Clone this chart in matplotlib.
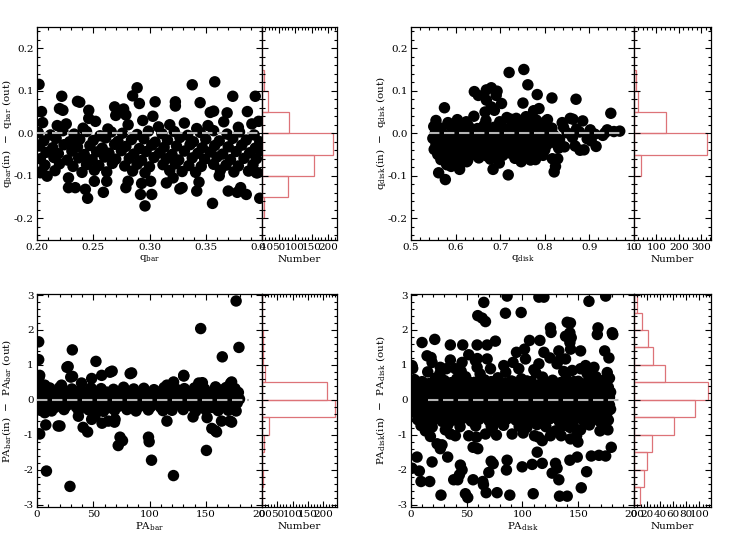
import matplotlib
matplotlib.use("Agg")
import matplotlib.pyplot as plt
from matplotlib.ticker import MultipleLocator, AutoMinorLocator, FormatStrFormatter, NullFormatter

plt.rcParams['font.family'] = ['DejaVu Serif']
plt.rcParams['mathtext.fontset'] = 'dejavuserif'
plt.rcParams['mathtext.default'] = 'regular'
plt.rcParams['axes.unicode_minus'] = False

# ---------------- data ----------------
# Panel A: q_bar vs q_bar(in)-q_bar(out)
qbar_outliers = [
    (0.2018, 0.115), (0.204, 0.051), (0.222, 0.087), (0.236, 0.075), (0.238, 0.073),
    (0.246, 0.054), (0.246, 0.035), (0.220, 0.058), (0.223, 0.054), (0.269, 0.062),
    (0.270, 0.042), (0.277, 0.057), (0.279, 0.043), (0.285, 0.088), (0.289, 0.107),
    (0.291, 0.070), (0.305, 0.074), (0.303, 0.040), (0.323, 0.074), (0.323, 0.064),
    (0.338, 0.114), (0.358, 0.121), (0.345, 0.072), (0.354, 0.049), (0.357, 0.052),
    (0.369, 0.048), (0.374, 0.087), (0.394, 0.087), (0.387, 0.051),
    (0.203, -0.093), (0.209, -0.101), (0.234, -0.128), (0.228, -0.105), (0.228, -0.128),
    (0.245, -0.153), (0.243, -0.132), (0.251, -0.113), (0.259, -0.139), (0.262, -0.113),
    (0.279, -0.128), (0.281, -0.113), (0.292, -0.144), (0.293, -0.118), (0.296, -0.171),
    (0.302, -0.144), (0.301, -0.113), (0.315, -0.117), (0.321, -0.105), (0.327, -0.131),
    (0.329, -0.128), (0.342, -0.136), (0.344, -0.115), (0.356, -0.165), (0.362, -0.100),
    (0.370, -0.136), (0.378, -0.139), (0.386, -0.144), (0.381, -0.128), (0.398, -0.153),
    (0.395, -0.093),
]
qbar_band_x = [
    0.205, 0.218, 0.226, 0.241, 0.252, 0.263, 0.281, 0.294, 0.308, 0.318, 0.331, 0.342, 0.352, 0.366, 0.379, 0.391, 0.397,
    0.201, 0.212, 0.223, 0.233, 0.244, 0.256, 0.266, 0.276, 0.289, 0.299, 0.311, 0.322, 0.334, 0.345, 0.357, 0.369, 0.380, 0.393,
    0.206, 0.217, 0.229, 0.238, 0.250, 0.261, 0.272, 0.284, 0.295, 0.305, 0.316, 0.327, 0.339, 0.350, 0.362, 0.374, 0.386, 0.398,
    0.202, 0.214, 0.224, 0.236, 0.247, 0.258, 0.269, 0.279, 0.291, 0.302, 0.313, 0.324, 0.336, 0.347, 0.358, 0.370, 0.382, 0.394,
    0.208, 0.219, 0.231, 0.242, 0.253, 0.264, 0.275, 0.286, 0.297, 0.309, 0.320, 0.331, 0.343, 0.354, 0.365, 0.377, 0.389, 0.399,
    0.203, 0.215, 0.227, 0.237, 0.249, 0.260, 0.270, 0.282, 0.293, 0.304, 0.315, 0.326, 0.338, 0.349, 0.360, 0.372, 0.384, 0.395,
    0.207, 0.220, 0.232, 0.244, 0.255, 0.267, 0.278, 0.289, 0.300, 0.312, 0.323, 0.335, 0.346, 0.357, 0.368, 0.379, 0.392,
    0.204, 0.216, 0.240, 0.251, 0.262, 0.285, 0.296, 0.318, 0.329, 0.341, 0.363, 0.375, 0.388, 0.396,
]
qbar_band_dy = [
    0.025, 0.018, 0.022, 0.012, 0.028, 0.010, 0.020, 0.030, 0.015, 0.020, 0.024, 0.011, 0.018, 0.027, 0.014, 0.022, 0.028,
    0.002, -0.004, 0.006, -0.002, 0.004, -0.006, 0.003, 0.000, -0.003, 0.005, -0.001, 0.004, -0.005, 0.002, 0.006, -0.002, 0.003, -0.004,
    -0.018, -0.012, -0.020, -0.014, -0.017, -0.011, -0.019, -0.015, -0.013, -0.021, -0.016, -0.010, -0.020, -0.014, -0.018, -0.012, -0.016, -0.020,
    -0.030, -0.034, -0.027, -0.032, -0.029, -0.035, -0.026, -0.031, -0.036, -0.028, -0.033, -0.030, -0.027, -0.034, -0.029, -0.032, -0.028, -0.035,
    -0.045, -0.048, -0.042, -0.050, -0.044, -0.047, -0.041, -0.049, -0.043, -0.046, -0.050, -0.042, -0.047, -0.044, -0.049, -0.043, -0.046, -0.041,
    -0.060, -0.057, -0.063, -0.058, -0.062, -0.056, -0.061, -0.059, -0.064, -0.057, -0.060, -0.063, -0.058, -0.061, -0.056, -0.062, -0.059, -0.060,
    -0.075, -0.072, -0.078, -0.074, -0.076, -0.071, -0.077, -0.073, -0.079, -0.074, -0.072, -0.076, -0.078, -0.073, -0.075, -0.077, -0.074,
    -0.090, -0.088, -0.092, -0.087, -0.091, -0.089, -0.093, -0.088, -0.090, -0.092, -0.087, -0.091, -0.089, -0.093,
]
qbar_hist_lo = [-0.20, -0.15, -0.10, -0.05, 0.00, 0.05, 0.10]
qbar_hist_n = [5, 79, 158, 216, 83, 18, 5]

# Panel B: q_disk
qdisk_outliers = [
    (0.720, 0.143), (0.753, 0.150), (0.762, 0.114), (0.642, 0.098), (0.651, 0.089),
    (0.669, 0.102), (0.680, 0.107), (0.693, 0.099), (0.691, 0.089), (0.669, 0.078),
    (0.680, 0.062), (0.687, 0.054), (0.703, 0.070), (0.751, 0.071), (0.783, 0.091),
    (0.787, 0.058), (0.775, 0.053), (0.816, 0.083), (0.870, 0.080), (0.948, 0.047),
    (0.575, 0.060), (0.857, 0.035), (0.863, 0.033), (0.885, 0.029), (0.666, 0.050),
    (0.715, 0.037), (0.736, 0.035), (0.758, 0.039), (0.773, 0.033), (0.806, 0.032),
    (0.839, 0.025),
    (0.577, -0.109), (0.562, -0.093), (0.580, -0.074), (0.590, -0.078), (0.610, -0.074),
    (0.609, -0.085), (0.625, -0.067), (0.684, -0.085), (0.718, -0.098), (0.698, -0.070),
    (0.698, -0.056), (0.747, -0.067), (0.779, -0.062), (0.817, -0.060), (0.824, -0.078),
    (0.821, -0.091), (0.829, -0.060), (0.831, -0.035), (0.844, -0.032), (0.879, -0.040),
    (0.888, -0.039), (0.915, -0.031), (0.904, -0.018), (0.930, -0.005), (0.955, 0.004),
    (0.968, 0.005), (0.940, 0.008),
]
qdisk_band_x = [
    0.556, 0.583, 0.604, 0.624, 0.641, 0.668, 0.699, 0.724, 0.752, 0.781, 0.802,
    0.551, 0.568, 0.589, 0.608, 0.629, 0.649, 0.664, 0.686, 0.704, 0.721, 0.741, 0.759, 0.776, 0.794, 0.816, 0.842, 0.871, 0.902,
    0.555, 0.574, 0.594, 0.614, 0.632, 0.648, 0.662, 0.678, 0.695, 0.712, 0.730, 0.748, 0.765, 0.782, 0.800, 0.820, 0.850, 0.878, 0.912, 0.935,
    0.549, 0.566, 0.585, 0.602, 0.620, 0.637, 0.655, 0.672, 0.690, 0.708, 0.725, 0.742, 0.758, 0.775, 0.792, 0.810, 0.833, 0.862, 0.895,
    0.556, 0.573, 0.592, 0.610, 0.628, 0.645, 0.663, 0.680, 0.698, 0.716, 0.733, 0.750, 0.768, 0.786, 0.805, 0.826, 0.868,
    0.552, 0.571, 0.590, 0.606, 0.625, 0.642, 0.660, 0.676, 0.694, 0.712, 0.729, 0.746, 0.764, 0.780, 0.800,
    0.560, 0.580, 0.600, 0.618, 0.636, 0.653, 0.671, 0.689, 0.706, 0.723, 0.741, 0.759, 0.777, 0.796,
    0.567, 0.598, 0.627, 0.652, 0.678, 0.733, 0.768,
]
qdisk_band_dy = [
    0.030, 0.025, 0.032, 0.027, 0.040, 0.030, 0.027, 0.033, 0.026, 0.031, 0.028,
    0.016, 0.012, 0.018, 0.013, 0.017, 0.011, 0.019, 0.014, 0.016, 0.012, 0.018, 0.015, 0.013, 0.017, 0.012, 0.014, 0.010, 0.008,
    0.002, -0.003, 0.004, -0.001, 0.003, -0.004, 0.001, 0.005, -0.002, 0.003, -0.003, 0.002, 0.004, -0.001, 0.002, -0.004, 0.001, 0.003, -0.002, 0.001,
    -0.012, -0.015, -0.010, -0.013, -0.016, -0.011, -0.014, -0.009, -0.015, -0.012, -0.010, -0.016, -0.013, -0.011, -0.014, -0.012, -0.015, -0.010, -0.013,
    -0.025, -0.028, -0.022, -0.026, -0.024, -0.029, -0.023, -0.027, -0.025, -0.022, -0.028, -0.024, -0.026, -0.023, -0.027, -0.025, -0.030,
    -0.038, -0.040, -0.036, -0.041, -0.037, -0.039, -0.035, -0.042, -0.038, -0.036, -0.040, -0.037, -0.041, -0.036, -0.039,
    -0.050, -0.053, -0.048, -0.055, -0.051, -0.049, -0.054, -0.050, -0.052, -0.047, -0.053, -0.050, -0.048, -0.052,
    -0.062, -0.060, -0.064, -0.058, -0.061, -0.059, -0.063,
]
qdisk_hist_lo = [-0.10, -0.05, 0.00, 0.05, 0.10]
qdisk_hist_n = [30, 326, 144, 20, 8]

# Panel C: PA_bar
pabar_outliers = [
    (1.5, 1.66), (1.5, 1.15), (1.8, 0.64), (2.4, -0.98), (8.4, -2.04), (7.8, -0.72),
    (29.3, -2.48), (31.4, 1.43), (26.6, 0.93), (30.0, 0.65), (20.4, -0.75), (41.0, -0.79),
    (36.8, -0.47), (52.4, 1.10), (66.8, 0.82), (84.1, 0.77), (72.2, -1.31), (76.0, -1.17),
    (68.9, -0.64), (99.1, -1.07), (99.7, -1.20), (101.8, -1.73), (121.3, -2.17), (130.5, 0.68),
    (145.5, 2.04), (150.6, -1.45), (155.4, -0.82), (159.6, -0.92), (164.7, 1.23), (177.0, 2.83),
    (179.5, 1.50), (173.0, 0.51), (164.0, -0.61), (173.0, -0.64), (163.0, 0.28), (147.0, 0.49),
    (57.8, -0.67), (18.8, -0.75), (27.7, 0.95), (31.6, 0.67), (57.5, 0.70), (64.9, 0.79),
    (82.8, 0.75), (130.4, 0.70), (158.7, 0.37), (172.0, 0.47), (143.8, 0.48), (115.5, 0.42),
    (39.6, 0.48), (48.6, 0.61), (6.9, 0.42), (2.4, 0.70), (11.3, 0.34), (21.8, 0.42),
    (121.4, 0.51), (6.9, -0.37), (48.6, -0.56), (51.5, -0.47), (63.4, -0.61), (69.4, -0.56),
    (115.5, -0.61), (138.7, -0.49), (151.2, -0.51), (158.7, -0.89), (171.5, -0.61), (73.8, -1.07),
    (45.0, -0.92),
]
pabar_band_x = [
    2, 11, 20, 31, 39, 48, 57, 68, 77, 86, 95, 104, 113, 124, 131, 140, 149, 158, 168, 176,
    6, 15, 25, 34, 44, 53, 62, 72, 81, 90, 100, 109, 118, 127, 136, 145, 154, 163, 172, 179,
    1, 10, 19, 29, 38, 47, 56, 66, 75, 84, 94, 103, 112, 121, 131, 140, 149, 158, 167, 176,
    4, 14, 23, 33, 42, 51, 60, 70, 79, 89, 98, 107, 116, 126, 135, 144, 153, 162, 171, 180,
    2, 11, 21, 30, 40, 49, 58, 67, 77, 86, 96, 105, 114, 123, 133, 142, 151, 160, 169, 178,
    7, 16, 26, 35, 45, 54, 63, 73, 82, 91, 101, 110, 119, 129, 138, 147, 156, 165, 174,
    3, 13, 24, 37, 46, 59, 69, 80, 88, 99, 112, 120, 130, 141, 150, 161, 170, 177,
]
pabar_band_dy = [
    0.33, 0.30, 0.35, 0.31, 0.29, 0.34, 0.32, 0.30, 0.36, 0.31, 0.33, 0.29, 0.35, 0.30, 0.32, 0.34, 0.31, 0.29, 0.35, 0.32,
    0.21, 0.18, 0.22, 0.19, 0.20, 0.17, 0.22, 0.19, 0.21, 0.18, 0.20, 0.22, 0.17, 0.21, 0.19, 0.20, 0.18, 0.22, 0.19, 0.21,
    0.10, 0.08, 0.12, 0.09, 0.11, 0.07, 0.10, 0.12, 0.08, 0.11, 0.09, 0.10, 0.12, 0.08, 0.11, 0.09, 0.10, 0.07, 0.12, 0.09,
    0.00, -0.02, 0.02, -0.01, 0.01, -0.02, 0.02, 0.00, -0.01, 0.02, -0.02, 0.01, 0.00, -0.01, 0.02, -0.02, 0.01, 0.00, -0.01, 0.02,
    -0.10, -0.12, -0.08, -0.11, -0.09, -0.10, -0.12, -0.08, -0.11, -0.09, -0.10, -0.12, -0.08, -0.11, -0.09, -0.10, -0.12, -0.08, -0.11, -0.09,
    -0.20, -0.22, -0.18, -0.21, -0.19, -0.20, -0.23, -0.18, -0.21, -0.19, -0.20, -0.22, -0.18, -0.21, -0.19, -0.20, -0.22, -0.18, -0.21,
    -0.30, -0.32, -0.28, -0.31, -0.29, -0.33, -0.30, -0.28, -0.32, -0.29, -0.31, -0.30, -0.28, -0.33, -0.29, -0.31, -0.30, -0.32,
]
pabar_hist_lo = [-3.0, -2.5, -2.0, -1.5, -1.0, -0.5, 0.0, 0.5, 1.0, 1.5, 2.0, 2.5]
pabar_hist_n = [1, 2, 1, 5, 23, 238, 213, 9, 3, 2, 1, 1]

# Panel D: PA_disk
padisk_outliers = [
    (86.2, 2.97), (114.7, 2.94), (119.2, 2.94), (174.6, 2.97), (65.3, 2.79), (84.7, 2.48),
    (98.8, 2.50), (159.6, 2.82), (59.9, 2.41), (63.8, 2.34), (66.8, 2.24), (0.9, 0.98),
    (1.5, 0.90), (9.9, 1.64), (21.3, 1.73), (35.3, 1.57), (46.4, 1.57), (59.3, 1.57),
    (68.3, 1.57), (75.7, 1.68), (51.8, 1.29), (35.3, 1.14), (45.8, 1.07), (18.0, 1.21),
    (14.4, 1.26), (18.9, 1.07), (57.8, 1.12), (59.5, 1.18), (68.3, 1.17), (83.2, 0.98),
    (94.6, 1.36), (101.8, 1.45), (106.3, 1.70), (115.6, 1.70), (119.2, 1.36), (124.6, 1.20),
    (125.1, 2.06), (125.6, 1.93), (140.1, 2.22), (143.0, 2.20), (142.5, 1.92), (143.7, 1.78),
    (138.6, 1.82), (142.5, 1.64), (143.1, 1.45), (152.1, 1.40), (167.7, 2.06), (167.1, 1.87),
    (132.6, 1.40), (164.1, 0.93), (173.7, 1.40), (177.5, 1.20), (180.5, 1.92), (181.0, 1.87),
    (131.0, 1.03), (134.0, 1.17), (138.6, 1.17), (144.6, 0.84), (152.1, 0.89), (156.6, 0.98),
    (114.7, 1.03), (110.2, 0.86), (96.7, 0.89), (102.7, 1.17), (91.5, 1.07), (39.8, 0.89),
    (31.7, 0.89), (26.3, 0.93), (59.3, 0.93), (71.3, 0.89),
    (5.4, -1.64), (0.9, -1.96), (7.5, -2.04), (9.0, -2.34), (16.8, -2.34), (18.9, -1.78),
    (26.9, -2.73), (27.8, -1.29), (26.3, -1.40), (32.9, -1.64), (38.3, -2.29), (41.9, -2.29),
    (44.3, -1.87), (45.8, -2.01), (43.4, -2.15), (48.8, -2.69), (50.9, -2.80), (55.7, -2.29),
    (55.7, -1.36), (59.9, -1.40), (64.4, -2.34), (65.0, -2.43), (67.4, -2.66), (71.9, -1.76),
    (73.7, -1.83), (77.2, -2.66), (69.8, -2.08), (85.6, -2.01), (86.2, -1.73), (88.6, -2.73),
    (99.7, -1.92), (108.7, -1.85), (109.6, -2.69), (113.2, -1.50), (117.7, -1.17), (117.7, -1.82),
    (126.6, -2.10), (129.6, -1.82), (131.0, -1.96), (132.6, -2.29), (133.2, -2.76), (140.1, -2.76),
    (142.5, -1.73), (149.1, -1.64), (152.7, -2.52), (157.5, -2.06), (161.7, -1.61), (168.6, -1.59),
    (174.6, -1.61), (179.6, -1.36), (12.9, -0.89), (17.4, -1.05), (23.4, -1.26), (30.8, -0.86),
    (35.3, -0.98), (39.8, -1.03), (51.8, -1.03), (58.7, -1.07), (66.8, -0.98), (71.9, -0.75),
    (76.6, -1.01), (90.7, -0.98), (100.6, -0.95), (110.8, -1.03), (114.4, -1.07), (125.1, -1.03),
    (129.6, -0.89), (134.7, -1.03), (142.5, -0.79), (143.1, -1.12), (148.5, -1.03), (149.7, -1.21),
    (152.1, -0.86), (158.1, -0.54), (169.5, -0.89), (176.6, -0.86), (174.6, -0.65),
]
padisk_band_x = [
    3, 10, 22, 30, 41, 49, 57, 66, 78, 90, 99, 108, 118, 127, 139, 150, 160, 166, 172, 178,
    1, 7, 14, 20, 27, 34, 40, 47, 53, 60, 68, 74, 81, 88, 95, 102, 109, 115, 122, 129, 135, 142, 149, 156, 163, 170, 177,
    4, 11, 17, 24, 31, 37, 44, 50, 57, 63, 71, 77, 84, 91, 98, 105, 112, 119, 125, 132, 139, 145, 152, 159, 166, 173, 179,
    2, 8, 15, 21, 28, 35, 42, 48, 55, 61, 67, 74, 80, 87, 94, 100, 107, 114, 120, 127, 134, 141, 147, 154, 161, 168, 175,
    5, 12, 18, 25, 32, 39, 45, 52, 59, 65, 72, 79, 85, 92, 99, 105, 112, 118, 125, 131, 138, 144, 151, 158, 164, 171, 178,
    3, 9, 16, 23, 29, 36, 43, 50, 56, 63, 69, 76, 83, 89, 96, 103, 110, 116, 123, 130, 136, 143, 150, 156, 163, 170, 176,
    6, 13, 21, 28, 38, 46, 54, 61, 70, 78, 86, 94, 101, 108, 116, 124, 133, 141, 148, 155, 162, 169, 177,
    9, 19, 33, 44, 58, 73, 83, 97, 104, 113, 121, 137, 146, 160, 174,
    15, 26, 45, 62, 85, 112, 137, 158, 176,
    6, 17, 26, 36, 52, 61, 72, 84, 93, 104, 117, 126, 134, 146, 157, 168, 175,
    2, 13, 23, 33, 46, 55, 65, 78, 87, 97, 110, 121, 130, 141, 153, 162, 171,
    7, 19, 29, 39, 52, 60, 70, 83, 96, 103, 116, 124, 136, 149, 157, 170, 178,
    4, 14, 26, 38, 46, 58, 69, 82, 90, 101, 111, 122, 135, 144, 155, 166, 176,
    1, 10, 21, 31, 43, 54, 66, 74, 86, 95, 108, 117, 128, 140, 147, 160, 169, 179,
    8, 19, 31, 41, 51, 66, 78, 91, 100, 113, 126, 139, 153, 166, 174,
]
padisk_band_dy = [
    0.58, 0.52, 0.62, 0.55, 0.60, 0.66, 0.50, 0.57, 0.63, 0.54, 0.60, 0.52, 0.65, 0.56, 0.61, 0.53, 0.59, 0.66, 0.55, 0.62,
    0.42, 0.36, 0.45, 0.38, 0.41, 0.35, 0.44, 0.39, 0.37, 0.46, 0.40, 0.34, 0.43, 0.38, 0.41, 0.36, 0.45, 0.39, 0.42, 0.35, 0.44, 0.37, 0.40, 0.46, 0.38, 0.42, 0.36,
    0.22, 0.17, 0.25, 0.19, 0.23, 0.16, 0.21, 0.26, 0.18, 0.24, 0.20, 0.15, 0.23, 0.19, 0.25, 0.17, 0.22, 0.20, 0.16, 0.24, 0.18, 0.21, 0.25, 0.17, 0.23, 0.19, 0.22,
    0.03, -0.02, 0.05, 0.00, 0.04, -0.03, 0.02, 0.06, -0.01, 0.03, 0.05, -0.02, 0.01, 0.04, -0.03, 0.02, 0.05, 0.00, 0.03, -0.02, 0.04, 0.01, 0.06, -0.01, 0.02, 0.05, 0.00,
    -0.17, -0.21, -0.15, -0.19, -0.22, -0.16, -0.20, -0.18, -0.14, -0.21, -0.17, -0.20, -0.15, -0.19, -0.22, -0.16, -0.18, -0.21, -0.15, -0.20, -0.17, -0.19, -0.22, -0.16, -0.18, -0.20, -0.15,
    -0.36, -0.40, -0.34, -0.39, -0.37, -0.42, -0.35, -0.38, -0.41, -0.36, -0.40, -0.33, -0.38, -0.42, -0.36, -0.39, -0.35, -0.41, -0.37, -0.34, -0.40, -0.38, -0.36, -0.42, -0.35, -0.39, -0.37,
    -0.57, -0.60, -0.55, -0.62, -0.58, -0.54, -0.61, -0.56, -0.60, -0.63, -0.55, -0.58, -0.52, -0.60, -0.57, -0.55, -0.62, -0.58, -0.54, -0.60, -0.56, -0.61, -0.58,
    -0.74, -0.78, -0.72, -0.77, -0.75, -0.80, -0.73, -0.76, -0.79, -0.71, -0.77, -0.74, -0.78, -0.72, -0.76,
    0.80, 0.76, 0.82, 0.74, 0.79, 0.77, 0.81, 0.75, 0.78,
    0.50, 0.47, 0.53, 0.49, 0.51, 0.46, 0.52, 0.48, 0.50, 0.54, 0.47, 0.51, 0.49, 0.52, 0.46, 0.50, 0.48,
    0.30, 0.27, 0.32, 0.29, 0.31, 0.26, 0.33, 0.28, 0.30, 0.27, 0.32, 0.29, 0.31, 0.28, 0.33, 0.26, 0.30,
    0.10, 0.12, 0.08, 0.11, 0.09, 0.13, 0.07, 0.10, 0.12, 0.09, 0.11, 0.08, 0.10, 0.13, 0.09, 0.11, 0.07,
    -0.08, -0.10, -0.06, -0.09, -0.11, -0.07, -0.08, -0.10, -0.06, -0.09, -0.11, -0.07, -0.08, -0.10, -0.06, -0.09, -0.10,
    -0.28, -0.30, -0.26, -0.29, -0.31, -0.27, -0.28, -0.30, -0.26, -0.29, -0.31, -0.27, -0.28, -0.30, -0.26, -0.29, -0.31, -0.27,
    -0.48, -0.50, -0.46, -0.49, -0.51, -0.47, -0.48, -0.50, -0.46, -0.49, -0.51, -0.47, -0.48, -0.50, -0.46,
]
padisk_hist_lo = [-3.0, -2.5, -2.0, -1.5, -1.0, -0.5, 0.0, 0.5, 1.0, 1.5, 2.0, 2.5]
padisk_hist_n = [9, 15, 20, 27, 62, 93, 113, 47, 29, 21, 12, 5]

# ---------------- styling ----------------
W, H = 747, 534
fig = plt.figure(figsize=(W / 100, H / 100), dpi=100)
RED = '#dd7378'
GREY = '#b4b4b4'
MS = 68
TICK_FS = 7.5
LAB_FS = 7.5
YLAB_OFFSET = 30   # px left of the axes where the y label is centred
XLAB_OFFSET = 19.5  # px below the axes where the x label is centred


def frac(x0, y0, x1, y1):
    return [x0 / W, 1 - y1 / H, (x1 - x0) / W, (y1 - y0) / H]


def style(ax, xmaj, ymaj, xminor=5, yminor=5):
    ax.xaxis.set_major_locator(MultipleLocator(xmaj))
    ax.yaxis.set_major_locator(MultipleLocator(ymaj))
    ax.xaxis.set_minor_locator(AutoMinorLocator(xminor))
    ax.yaxis.set_minor_locator(AutoMinorLocator(yminor))
    ax.tick_params(which='both', direction='in', top=True, right=True, labelsize=TICK_FS,
                   width=0.8, pad=2.5)
    ax.tick_params(which='major', length=4)
    ax.tick_params(which='minor', length=2)
    for s in ax.spines.values():
        s.set_linewidth(0.9)


def make_panel(box, split, pts, bx, by, xlim, ylim, line_x, xmaj, ymaj,
               xfmt, yfmt, xlabel, ylabel, hlo, hn, bw, hxmax, hxmaj, hxminor):
    x0, y0, x2, y1 = box
    ax = fig.add_axes(frac(x0, y0, split, y1))
    xs = [p[0] for p in pts] + list(bx)
    ys = [p[1] for p in pts] + list(by)
    ax.scatter(xs, ys, s=MS, c='black', edgecolors='none', zorder=2)
    ax.plot(line_x, [0, 0], color=GREY, lw=1.5, dashes=(5, 2.2), zorder=3)
    ax.set_xlim(*xlim)
    ax.set_ylim(*ylim)
    style(ax, xmaj, ymaj)
    ax.xaxis.set_major_formatter(FormatStrFormatter(xfmt))
    ax.yaxis.set_major_formatter(FormatStrFormatter(yfmt))
    hgt = y1 - y0
    ax.set_xlabel(xlabel, fontsize=LAB_FS, va='center')
    ax.xaxis.set_label_coords(0.5, -XLAB_OFFSET / hgt)
    ax.set_ylabel(ylabel, fontsize=LAB_FS, va='center')
    ax.yaxis.set_label_coords(-YLAB_OFFSET / (split - x0), 0.5)

    hx = fig.add_axes(frac(split, y0, x2, y1))
    hx.barh(hlo, hn, height=bw, align='edge', fill=False, edgecolor=RED, lw=0.9)
    hx.axvline(0, color=RED, lw=0.9)
    hx.set_xlim(0, hxmax)
    hx.set_ylim(*ylim)
    style(hx, hxmaj, ymaj, xminor=hxminor)
    hx.yaxis.set_major_formatter(NullFormatter())
    hx.xaxis.set_major_formatter(FormatStrFormatter('%d'))
    hx.set_xlabel('Number', fontsize=LAB_FS, va='center')
    hx.xaxis.set_label_coords(0.5, -XLAB_OFFSET / hgt)
    return ax, hx


make_panel((37, 27, 337, 239.5), 262,
           qbar_outliers, qbar_band_x, qbar_band_dy, (0.2, 0.4), (-0.25, 0.25), [0.2, 0.4],
           0.05, 0.1, '%.2f', '%.1f', r'q$_{bar}$',
           'q$_{bar}$(in)  \u2212  q$_{bar}$ (out)',
           qbar_hist_lo, qbar_hist_n, 0.05, 227, 50, 5)

make_panel((411, 27, 711, 239.5), 634,
           qdisk_outliers, qdisk_band_x, qdisk_band_dy, (0.5, 1.0), (-0.25, 0.25), [0.54, 0.975],
           0.1, 0.1, '%.1f', '%.1f', r'q$_{disk}$',
           'q$_{disk}$(in)  \u2212  q$_{disk}$ (out)',
           qdisk_hist_lo, qdisk_hist_n, 0.05, 344, 100, 5)

make_panel((37, 294, 337, 507), 262,
           pabar_outliers, pabar_band_x, pabar_band_dy, (0, 200), (-3.07, 3.03), [0, 188],
           50, 1, '%d', '%d', r'PA$_{bar}$',
           'PA$_{bar}$(in)  \u2212  PA$_{bar}$ (out)',
           pabar_hist_lo, pabar_hist_n, 0.5, 245, 50, 5)

make_panel((411, 294, 711, 507), 634,
           padisk_outliers, padisk_band_x, padisk_band_dy, (0, 200), (-3.07, 3.03), [15, 188],
           50, 1, '%d', '%d', r'PA$_{disk}$',
           'PA$_{disk}$(in)  \u2212  PA$_{disk}$ (out)',
           padisk_hist_lo, padisk_hist_n, 0.5, 118, 20, 4)

fig.savefig('out.png', dpi=100)
